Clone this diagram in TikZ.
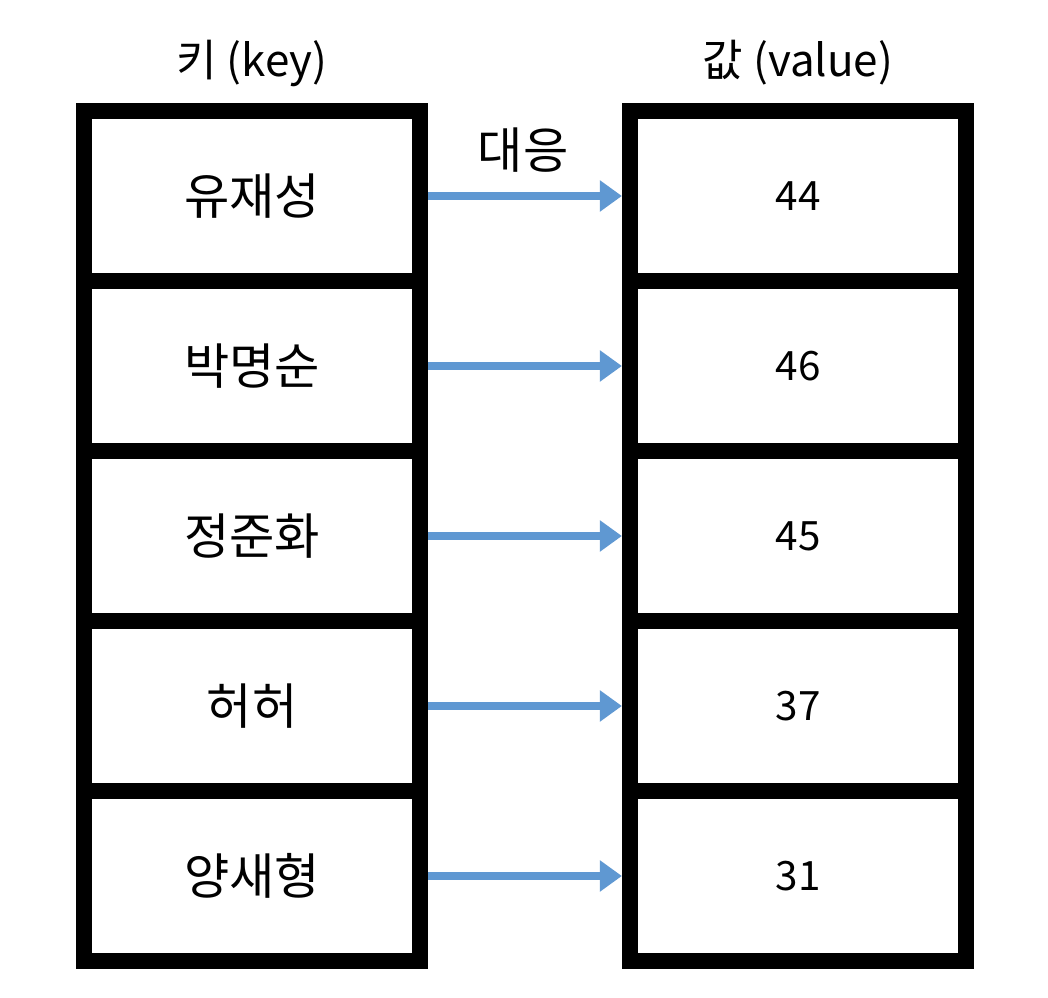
\documentclass[tikz,border=0pt]{standalone}
\usepackage{fontspec}
\setmainfont{Noto Sans CJK KR}
\usetikzlibrary{arrows.meta}
\definecolor{mapblue}{HTML}{5F98D2}

\begin{document}
\begin{tikzpicture}[x=0.01cm,y=-0.01cm,
    cell/.style={draw,line width=0.16cm,minimum width=3.36cm,minimum height=1.70cm,
      font=\fontsize{14}{16}\selectfont},
    numcell/.style={cell,font=\fontsize{11.5}{14}\selectfont},
    head/.style={font=\fontsize{12.5}{15}\selectfont}]
  \useasboundingbox (0,0) rectangle (1048,998);
  \foreach \k/\v [count=\i] in {유재성/44, 박명순/46, 정준화/45, 허허/37, 양새형/31}{
    \node[cell] (key\i) at (252,26+170*\i) {\k};
    \node[numcell] (val\i) at (798,26+170*\i) {\v};
    \draw[mapblue, line width=0.08cm, -{Triangle[length=0.22cm,width=0.30cm]}] (key\i) -- (val\i);
  }
  \node[head] (keyhead) at (252,63) {키 (key)};
  \node[head] (valhead) at (798,63) {값 (value)};
  \node[head, font=\fontsize{14}{16}\selectfont] (maplabel) at (523,150) {대응};
\end{tikzpicture}
\end{document}
